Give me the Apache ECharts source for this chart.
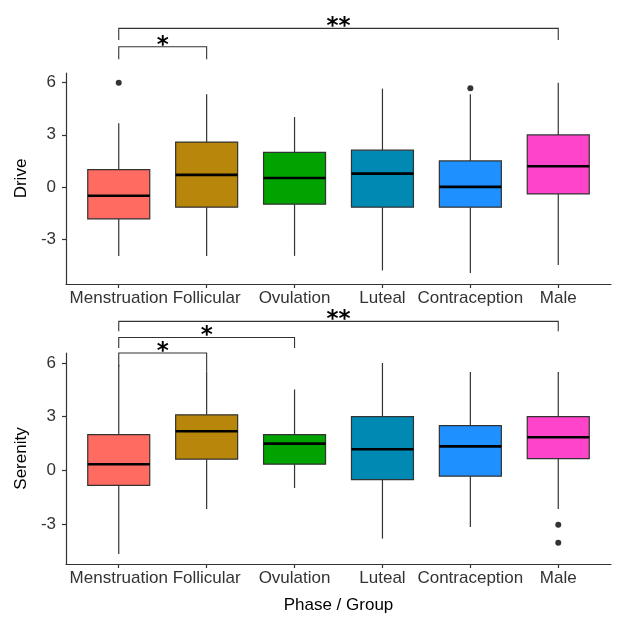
<!DOCTYPE html>
<html><head><meta charset="utf-8">
<script src="https://cdn.jsdelivr.net/npm/echarts@6/dist/echarts.min.js"></script>
<style>html,body{margin:0;padding:0;background:#fff}#c{width:621px;height:622px}</style>
</head><body><div id="c"></div>
<script>
const categories = ['Menstruation','Follicular','Ovulation','Luteal','Contraception','Male'];
const colors = ['#FF6B61','#B8860B','#00A300','#0089B3','#1E90FF','#FF44CC'];
// [min, Q1, median, Q3, max]
const driveStats = [
  [-3.98,-1.85,-0.51,0.99,3.66],
  [-3.98,-1.17,0.69,2.58,5.33],
  [-3.98,-1.00,0.51,1.99,4.02],
  [-4.82,-1.17,0.76,2.11,5.66],
  [-4.97,-1.17,0.00,1.49,5.33],
  [-4.50,-0.41,1.19,2.99,6.00]
];
const driveOutliers = [[0,6.0],[4,5.68]];
const serenityStats = [
  [-4.68,-0.84,0.34,2.00,5.90],
  [-2.16,0.62,2.18,3.10,5.52],
  [-0.99,0.34,1.49,2.00,4.52],
  [-3.82,-0.52,1.18,3.00,6.00],
  [-3.17,-0.33,1.34,2.50,5.50],
  [-2.16,0.65,1.85,3.00,5.50]
];
const serenityOutliers = [[5,-3.04],[5,-4.05]];
// [fromIndex, toIndex, lineY, leftTipY, rightTipY]
const driveSig = [[0,1,8.07,7.35,7.35],[0,5,9.13,8.46,8.46]];
const driveSigLabels = ['*','**'];
const serenitySig = [[0,1,6.56,5.81,5.53],[0,2,7.43,6.84,6.84],[0,5,8.33,7.77,7.77]];
const serenitySigLabels = ['*','*','**'];
const yTicks = [-3,0,3,6];
const xTicks = [0,1,2,3,4,5];
const driveRange = [-5.6,6.56];
const serenityRange = [-5.24,6.56];

const BOX_W = 62;
const AX = '#333';

function boxRender(params, api){
  const x = api.value(0);
  const pMin = api.coord([x, api.value(1)]);
  const pQ1 = api.coord([x, api.value(2)]);
  const pMed = api.coord([x, api.value(3)]);
  const pQ3 = api.coord([x, api.value(4)]);
  const pMax = api.coord([x, api.value(5)]);
  const h = BOX_W/2;
  return {type:'group', children:[
    {type:'line', shape:{x1:pMin[0],y1:pMin[1],x2:pQ1[0],y2:pQ1[1]}, style:{stroke:AX,lineWidth:1.2}},
    {type:'line', shape:{x1:pQ3[0],y1:pQ3[1],x2:pMax[0],y2:pMax[1]}, style:{stroke:AX,lineWidth:1.2}},
    {type:'rect', shape:{x:pQ3[0]-h, y:pQ3[1], width:BOX_W, height:pQ1[1]-pQ3[1]}, style:{fill:colors[params.dataIndex], stroke:AX, lineWidth:1.2}},
    {type:'line', shape:{x1:pMed[0]-h,y1:pMed[1],x2:pMed[0]+h,y2:pMed[1]}, style:{stroke:'#000',lineWidth:2.6}}
  ]};
}
function sigRender(labels){
  return function(params, api){
    const a = api.coord([api.value(0), api.value(3)]);
    const b = api.coord([api.value(0), api.value(2)]);
    const c = api.coord([api.value(1), api.value(2)]);
    const e = api.coord([api.value(1), api.value(4)]);
    return {type:'group', children:[
      {type:'polyline', shape:{points:[a,b,c,e]}, style:{stroke:AX,lineWidth:1.1,fill:null}},
      {type:'text', x:(b[0]+c[0])/2, y:b[1]-1, style:{text:labels[params.dataIndex], font:'bold 23px "DejaVu Sans"', fill:'#000', align:'center', verticalAlign:'middle'}}
    ]};
  };
}

function xAxisCfg(gi, name){
  return {
    type:'value', gridIndex:gi, min:-0.6, max:5.6,
    name:name||'', nameLocation:'middle', nameGap:33,
    nameTextStyle:{fontSize:17, color:'#000', fontFamily:'Liberation Sans'},
    axisLine:{show:true, onZero:false, lineStyle:{color:AX, width:1.2}},
    axisTick:{show:true, customValues:xTicks, length:4, lineStyle:{color:AX, width:1.2}},
    axisLabel:{customValues:xTicks, formatter:v=>categories[Math.round(v)], fontSize:17, color:'#333', fontFamily:'Liberation Sans', margin:6},
    splitLine:{show:false}
  };
}
function yAxisCfg(gi, name, range){
  return {
    type:'value', gridIndex:gi, min:range[0], max:range[1],
    name:name, nameLocation:'middle', nameGap:36, nameRotate:90,
    nameTextStyle:{fontSize:17, color:'#000', fontFamily:'Liberation Sans'},
    axisLine:{show:true, onZero:false, lineStyle:{color:AX, width:1.2}},
    axisTick:{show:true, customValues:yTicks, length:4, lineStyle:{color:AX, width:1.2}},
    axisLabel:{customValues:yTicks, fontSize:17, color:'#333', fontFamily:'Liberation Sans', margin:10},
    splitLine:{show:false}
  };
}

const chart = echarts.init(document.getElementById('c'), null, {renderer:'canvas'});
chart.setOption({
  backgroundColor:'#fff',
  animation:false,
  grid:[
    {left:66, top:73, width:545, height:211},
    {left:66, top:353, width:545, height:211}
  ],
  xAxis:[xAxisCfg(0), xAxisCfg(1,'Phase / Group')],
  yAxis:[yAxisCfg(0,'Drive',driveRange), yAxisCfg(1,'Serenity',serenityRange)],
  series:[
    {type:'custom', xAxisIndex:0, yAxisIndex:0, renderItem:boxRender, encode:{x:0,y:[1,2,3,4,5]},
      data:driveStats.map((s,i)=>[i].concat(s))},
    {type:'scatter', xAxisIndex:0, yAxisIndex:0, symbolSize:6, itemStyle:{color:'#000'}, data:driveOutliers},
    {type:'custom', xAxisIndex:0, yAxisIndex:0, renderItem:sigRender(driveSigLabels), clip:false, encode:{x:[0,1],y:[2,3,4]},
      data:driveSig},
    {type:'custom', xAxisIndex:1, yAxisIndex:1, renderItem:boxRender, encode:{x:0,y:[1,2,3,4,5]},
      data:serenityStats.map((s,i)=>[i].concat(s))},
    {type:'scatter', xAxisIndex:1, yAxisIndex:1, symbolSize:6, itemStyle:{color:'#000'}, data:serenityOutliers},
    {type:'custom', xAxisIndex:1, yAxisIndex:1, renderItem:sigRender(serenitySigLabels), clip:false, encode:{x:[0,1],y:[2,3,4]},
      data:serenitySig}
  ]
});
</script>
</body></html>
